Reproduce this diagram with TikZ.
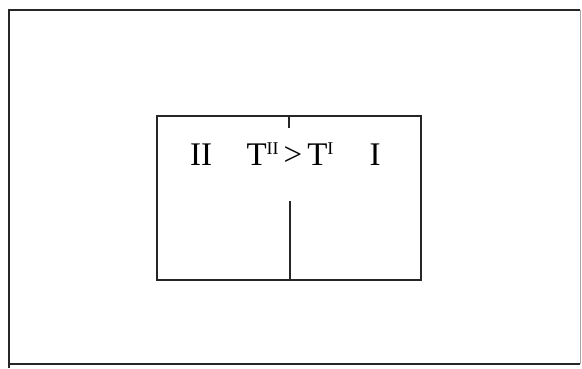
\documentclass[tikz,border=0pt]{standalone}
\usepackage{fontspec}
\setmainfont{Liberation Serif}
\newcommand\supmark[1]{\raisebox{11pt}{\fontsize{18}{18}\selectfont #1}}
\tikzset{
  frame/.style={line width=1.6pt, black!85},
  wall/.style={line width=1.5pt, black!85},
  lbl/.style={anchor=base, inner sep=0pt, font=\fontsize{33}{33}\selectfont}
}
\begin{document}
\begin{tikzpicture}[x=1pt,y=-1pt]
\useasboundingbox (0,0) rectangle (582,368);
% outer frame
\coordinate (o1) at (9,368);
\coordinate (o2) at (9,10);
\coordinate (o3) at (580,10);
\coordinate (o4) at (580,364);
\coordinate (o5) at (9,364);
\draw[frame] (o1) -- (o2) -- (o3);
\draw[line width=0.8pt, black!35] (o3) -- (o4);
\draw[frame] (o5) -- (o4);
% inner box
\coordinate (b1) at (157,116);
\coordinate (b2) at (421,280);
\draw[wall] (b1) rectangle (b2);
% divider
\coordinate (t1) at (289,116);
\coordinate (t2) at (289,128);
\coordinate (d1) at (290,201);
\coordinate (d2) at (290,280);
\draw[wall] (t1) -- (t2);
\draw[wall] (d1) -- (d2);
% labels
\node[lbl] (left) at (201,165) {II};
\node[lbl] (mid) at (290,165) {T\supmark{II}\hspace{5pt}>\hspace{5pt}T\supmark{I}};
\node[lbl] (right) at (375,165) {I};
\end{tikzpicture}
\end{document}
